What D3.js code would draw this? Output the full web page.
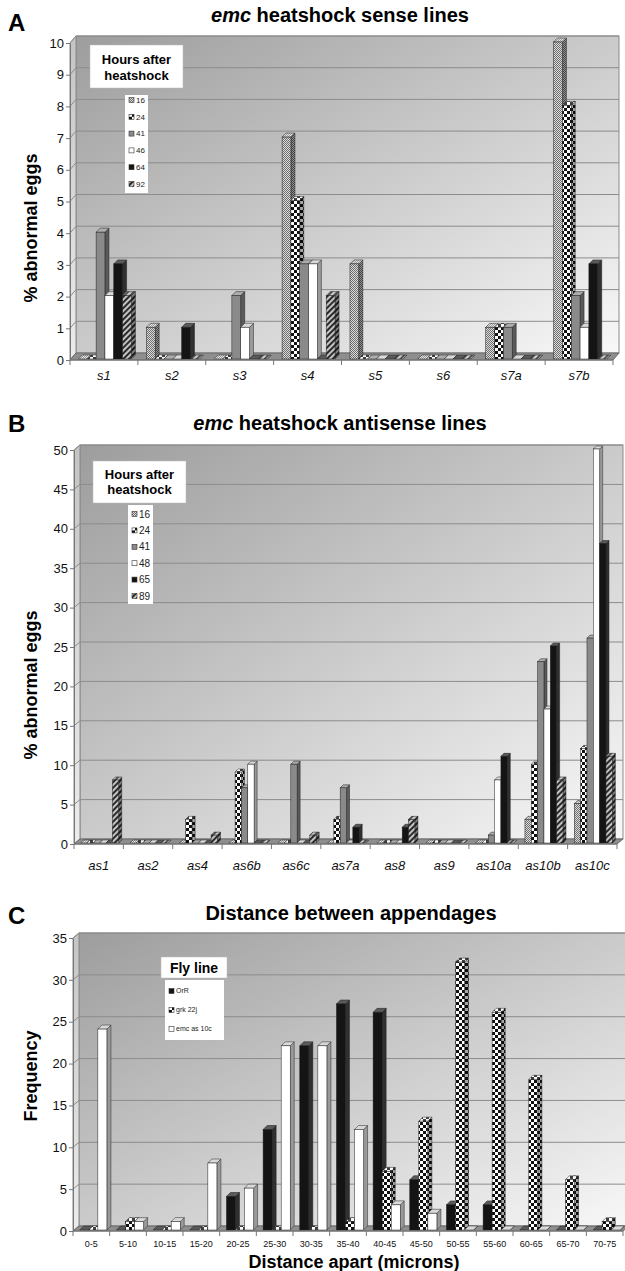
<!DOCTYPE html>
<html>
<head>
<meta charset="utf-8">
<script src="https://cdn.jsdelivr.net/npm/d3@7"></script>
<style>
  body { margin: 0; background: #fff; }
  svg text { font-family: "Liberation Sans", Arial, sans-serif; }
  .narrow { font-family: "Liberation Sans Narrow", "Liberation Sans", Arial, sans-serif; }
</style>
</head>
<body>
<script>
// panel A: sense lines
const senseLines = ['s1', 's2', 's3', 's4', 's5', 's6', 's7a', 's7b'];
const senseHours = ['16', '24', '41', '46', '64', '92'];
const senseValues = [
    [0, 0, 4, 2, 3, 2],
    [1, 0, 0, 0, 1, 0],
    [0, 0, 2, 1, 0, 0],
    [7, 5, 3, 3, 0, 2],
    [3, 0, 0, 0, 0, 0],
    [0, 0, 0, 0, 0, 0],
    [1, 1, 1, 0, 0, 0],
    [10, 8, 2, 1, 3, 0]
];
const senseTicks = [0, 1, 2, 3, 4, 5, 6, 7, 8, 9, 10];

// panel B: antisense lines
const antisenseLines = ['as1', 'as2', 'as4', 'as6b', 'as6c', 'as7a', 'as8', 'as9', 'as10a', 'as10b', 'as10c'];
const antisenseHours = ['16', '24', '41', '48', '65', '89'];
const antisenseValues = [
    [0, 0, 0, 0, 0, 8],
    [0, 0, 0, 0, 0, 0],
    [0, 3, 0, 0, 0, 1],
    [0, 9, 7, 10, 0, 0],
    [0, 0, 10, 0, 0, 1],
    [0, 3, 7, 0, 2, 0],
    [0, 0, 0, 0, 2, 3],
    [0, 0, 0, 0, 0, 0],
    [0, 0, 1, 8, 11, 0],
    [3, 10, 23, 17, 25, 8],
    [5, 12, 26, 50, 38, 11]
];
const antisenseTicks = [0, 5, 10, 15, 20, 25, 30, 35, 40, 45, 50];

// panel C: distance between appendages
const distanceBins = ['0-5', '5-10', '10-15', '15-20', '20-25', '25-30', '30-35', '35-40',
    '40-45', '45-50', '50-55', '55-60', '60-65', '65-70', '70-75'];
const flyLines = ['OrR', 'grk 22j', 'emc as 10c'];
const distanceValues = [
    [0, 0, 24],
    [0, 1, 1],
    [0, 0, 1],
    [0, 0, 8],
    [4, 0, 5],
    [12, 0, 22],
    [22, 0, 22],
    [27, 1, 12],
    [26, 7, 3],
    [6, 13, 2],
    [3, 32, 0],
    [3, 26, 0],
    [0, 18, 0],
    [0, 6, 0],
    [0, 1, 0]
];
const distanceTicks = [0, 5, 10, 15, 20, 25, 30, 35];

const svg = d3.select('body')
    .append('svg')
    .attr('width', 625)
    .attr('height', 1271);

svg.append('rect').attr('width', 625).attr('height', 1271).attr('fill', '#fff');

const defs = svg.append('defs');

// wall gradients
const wall = defs.append('linearGradient').attr('id', 'wall')
    .attr('x1', 0).attr('y1', 0).attr('x2', 1).attr('y2', 1);
wall.append('stop').attr('offset', 0).attr('stop-color', '#9d9d9d');
wall.append('stop').attr('offset', 1).attr('stop-color', '#f8f8f8');

const sideWall = defs.append('linearGradient').attr('id', 'sidewall')
    .attr('x1', 0).attr('y1', 0).attr('x2', 0).attr('y2', 1);
sideWall.append('stop').attr('offset', 0).attr('stop-color', '#c4c4c4');
sideWall.append('stop').attr('offset', 1).attr('stop-color', '#ececec');

// bar fill patterns
let p = defs.append('pattern').attr('id', 'dots')
    .attr('width', 2).attr('height', 2).attr('patternUnits', 'userSpaceOnUse');
p.append('rect').attr('width', 2).attr('height', 2).attr('fill', '#dcdcdc');
p.append('rect').attr('width', 1).attr('height', 1).attr('fill', '#6e6e6e');
p.append('rect').attr('x', 1).attr('y', 1).attr('width', 1).attr('height', 1).attr('fill', '#6e6e6e');

p = defs.append('pattern').attr('id', 'check')
    .attr('width', 6).attr('height', 6).attr('patternUnits', 'userSpaceOnUse');
p.append('rect').attr('width', 6).attr('height', 6).attr('fill', '#fff');
p.append('rect').attr('width', 3).attr('height', 3).attr('fill', '#111');
p.append('rect').attr('x', 3).attr('y', 3).attr('width', 3).attr('height', 3).attr('fill', '#111');

p = defs.append('pattern').attr('id', 'hatch')
    .attr('width', 4).attr('height', 4).attr('patternUnits', 'userSpaceOnUse')
    .attr('patternTransform', 'rotate(45)');
p.append('rect').attr('width', 4).attr('height', 4).attr('fill', '#c4c4c4');
p.append('rect').attr('width', 2).attr('height', 4).attr('fill', '#2a2a2a');

// fill + shading of top and side faces
const styles = {
    dots: {fill: 'url(#dots)', top: ['#fff', 0.3], side: ['#000', 0.35]},
    check: {fill: 'url(#check)', top: ['#fff', 0.2], side: ['#000', 0.35]},
    gray: {fill: '#8a8a8a', top: ['#fff', 0.3], side: ['#000', 0.35]},
    white: {fill: '#fff', top: ['#000', 0.15], side: ['#000', 0.4]},
    black: {fill: '#141414', top: ['#fff', 0.3], side: ['#fff', 0.12]},
    hatch: {fill: 'url(#hatch)', top: ['#fff', 0.2], side: ['#000', 0.35]}
};

function drawPanel(cfg) {
    const g = svg.append('g');
    const x = d3.scaleBand().domain(cfg.categories).range([cfg.left, cfg.right]);
    const y = d3.scaleLinear().domain([0, d3.max(cfg.ticks)]).range([cfg.bottom, cfg.top]);
    const bw = x.bandwidth();
    const xs = d3.scaleBand().domain(cfg.series).range([0, bw * (1 - cfg.gap)]);
    const dx = cfg.dx;
    const dy = cfg.dy;
    const y0 = y(0);
    const yTop = y(y.domain()[1]);

    // back wall
    g.append('rect')
        .attr('x', cfg.left + dx)
        .attr('y', yTop + dy)
        .attr('width', cfg.right - cfg.left)
        .attr('height', y0 - yTop)
        .attr('fill', 'url(#wall)')
        .attr('stroke', '#8a8a8a');

    // left wall
    g.append('path')
        .attr('d', `M${cfg.left},${yTop}L${cfg.left + dx},${yTop + dy}L${cfg.left + dx},${y0 + dy}L${cfg.left},${y0}Z`)
        .attr('fill', 'url(#sidewall)')
        .attr('stroke', '#8a8a8a');

    // gridlines
    g.selectAll('.grid')
        .data(cfg.ticks.filter(t => t > 0))
        .join('path')
        .attr('d', t => `M${cfg.left},${y(t)}L${cfg.left + dx},${y(t) + dy}L${cfg.right + dx},${y(t) + dy}`)
        .attr('fill', 'none')
        .attr('stroke', '#8c8c8c');

    // floor
    g.append('path')
        .attr('d', `M${cfg.left},${y0}L${cfg.left + dx},${y0 + dy}L${cfg.right + dx},${y0 + dy}L${cfg.right},${y0}Z`)
        .attr('fill', '#8e8e8e')
        .attr('stroke', '#6a6a6a');

    // bars
    const flat = [];
    cfg.categories.forEach((c, i) => {
        cfg.series.forEach((s, j) => flat.push({c, s, v: cfg.values[i][j], style: styles[cfg.patterns[j]]}));
    });
    const bd = cfg.barDepth;
    const bars = g.selectAll('.bar')
        .data(flat)
        .join('g')
        .attr('class', 'bar');
    bars.each(function (d) {
        const b = d3.select(this);
        const bx = x(d.c) + bw * cfg.gap / 2 + xs(d.s) + cfg.barShift;
        const w = xs.bandwidth();
        const base = y0 - cfg.barLift;
        const yv = y(d.v) - cfg.barLift;
        const top = `M${bx},${yv}L${bx + bd},${yv - bd}L${bx + w + bd},${yv - bd}L${bx + w},${yv}Z`;
        const side = `M${bx + w},${yv}L${bx + w + bd},${yv - bd}L${bx + w + bd},${base - bd}L${bx + w},${base}Z`;
        b.append('path').attr('d', side).attr('fill', d.style.fill);
        b.append('path').attr('d', side).attr('fill', d.style.side[0]).attr('fill-opacity', d.style.side[1])
            .attr('stroke', '#222').attr('stroke-width', 0.5);
        b.append('path').attr('d', top).attr('fill', d.style.fill);
        b.append('path').attr('d', top).attr('fill', d.style.top[0]).attr('fill-opacity', d.style.top[1])
            .attr('stroke', '#222').attr('stroke-width', 0.5);
        b.append('rect')
            .attr('x', bx).attr('y', yv)
            .attr('width', w).attr('height', base - yv)
            .attr('fill', d.style.fill)
            .attr('stroke', '#222').attr('stroke-width', 0.5);
    });

    // y axis
    const yAxis = d3.axisLeft(y).tickValues(cfg.ticks).tickSize(4).tickSizeOuter(0).tickPadding(2);
    const ya = g.append('g')
        .attr('transform', `translate(${cfg.left},0)`)
        .call(yAxis);
    ya.select('.domain').attr('stroke', '#777');
    ya.selectAll('line').attr('stroke', '#777');
    ya.selectAll('text')
        .attr('class', 'narrow')
        .attr('font-size', cfg.tickFont)
        .attr('fill', '#111');

    // category axis
    g.append('line')
        .attr('x1', cfg.left).attr('x2', cfg.right)
        .attr('y1', y0).attr('y2', y0)
        .attr('stroke', '#777');
    g.selectAll('.sep')
        .data(cfg.categories.map(c => x(c)).concat([cfg.right]))
        .join('line')
        .attr('x1', d => d).attr('x2', d => d)
        .attr('y1', y0).attr('y2', y0 + 5)
        .attr('stroke', '#777');
    g.selectAll('.cat')
        .data(cfg.categories)
        .join('text')
        .attr('class', 'narrow')
        .attr('x', c => x(c) + bw / 2)
        .attr('y', cfg.catY)
        .attr('text-anchor', 'middle')
        .attr('font-size', cfg.catFont)
        .attr('font-style', cfg.catItalic ? 'italic' : 'normal')
        .attr('fill', '#111')
        .text(c => c);

    // panel letter and title
    g.append('text')
        .attr('x', 8).attr('y', cfg.letterY)
        .attr('font-size', 24).attr('font-weight', 'bold')
        .text(cfg.letter);
    const t = g.append('text')
        .attr('x', cfg.titleX).attr('y', cfg.titleY)
        .attr('text-anchor', 'middle')
        .attr('font-size', 20).attr('font-weight', 'bold');
    if (cfg.titleItalic) {
        t.append('tspan').attr('font-style', 'italic').text(cfg.titleItalic);
    }
    t.append('tspan').text(cfg.title);

    // y axis title
    g.append('text')
        .attr('transform', `translate(${cfg.yTitleX},${cfg.yTitleY}) rotate(-90)`)
        .attr('text-anchor', 'middle')
        .attr('font-size', 18).attr('font-weight', 'bold')
        .text(cfg.yTitle);

    // legend
    const lg = cfg.legend;
    g.append('rect')
        .attr('x', lg.box[0]).attr('y', lg.box[1])
        .attr('width', lg.box[2]).attr('height', lg.box[3])
        .attr('fill', '#fff').attr('stroke', '#bbb').attr('stroke-width', 0.5);
    g.selectAll('.lgtitle')
        .data(lg.title)
        .join('text')
        .attr('x', lg.box[0] + lg.box[2] / 2)
        .attr('y', (d, i) => lg.titleY + i * lg.titleStep)
        .attr('text-anchor', 'middle')
        .attr('font-size', lg.titleFont).attr('font-weight', 'bold')
        .text(d => d);
    g.append('rect')
        .attr('x', lg.items[0]).attr('y', lg.items[1])
        .attr('width', lg.items[2]).attr('height', lg.items[3])
        .attr('fill', '#fff');
    const items = g.selectAll('.lgitem')
        .data(cfg.series)
        .join('g')
        .attr('transform', (d, i) => `translate(${lg.items[0] + 4},${lg.firstY + i * lg.step})`);
    items.append('rect')
        .attr('x', 0).attr('y', -lg.sw / 2)
        .attr('width', lg.sw).attr('height', lg.sw)
        .attr('fill', (d, i) => styles[cfg.patterns[i]].fill)
        .attr('stroke', '#333').attr('stroke-width', 0.6);
    items.append('text')
        .attr('class', 'narrow')
        .attr('x', lg.sw + 2).attr('y', 0)
        .attr('dy', '0.35em')
        .attr('font-size', lg.itemFont)
        .attr('fill', '#222')
        .text(d => d);
}

drawPanel({
    letter: 'A', letterY: 31,
    titleItalic: 'emc', title: ' heatshock sense lines', titleX: 340, titleY: 22,
    yTitle: '% abnormal eggs', yTitleX: 37, yTitleY: 228,
    categories: senseLines, series: senseHours, values: senseValues, ticks: senseTicks,
    patterns: ['dots', 'check', 'gray', 'white', 'black', 'hatch'],
    left: 70, right: 613, top: 43, bottom: 360, dx: 6, dy: -7,
    gap: 0.22, barDepth: 4, barShift: 1, barLift: 1,
    tickFont: 13, catFont: 13, catItalic: true, catY: 380,
    legend: {
        box: [90, 45, 93, 43], title: ['Hours after', 'heatshock'], titleY: 64, titleStep: 16, titleFont: 13,
        items: [125, 95, 23, 98], firstY: 100, step: 16.8, sw: 5, itemFont: 8
    }
});

drawPanel({
    letter: 'B', letterY: 432,
    titleItalic: 'emc', title: ' heatshock antisense lines', titleX: 340, titleY: 430,
    yTitle: '% abnormal eggs', yTitleX: 37, yTitleY: 685,
    categories: antisenseLines, series: antisenseHours, values: antisenseValues, ticks: antisenseTicks,
    patterns: ['dots', 'check', 'gray', 'white', 'black', 'hatch'],
    left: 74, right: 617, top: 450, bottom: 844, dx: 6, dy: -5,
    gap: 0.23, barDepth: 3, barShift: 1, barLift: 1,
    tickFont: 13, catFont: 13, catItalic: true, catY: 870,
    legend: {
        box: [93, 461, 93, 42], title: ['Hours after', 'heatshock'], titleY: 479, titleStep: 15, titleFont: 13,
        items: [128, 505, 25, 99], firstY: 514, step: 16.4, sw: 5, itemFont: 10
    }
});

drawPanel({
    letter: 'C', letterY: 924,
    titleItalic: '', title: 'Distance between appendages', titleX: 351, titleY: 920,
    yTitle: 'Frequency', yTitleX: 37, yTitleY: 1076,
    categories: distanceBins, series: flyLines, values: distanceValues, ticks: distanceTicks,
    patterns: ['black', 'check', 'white'],
    left: 73, right: 623, top: 938, bottom: 1231, dx: 6, dy: -5,
    gap: 0.26, barDepth: 4, barShift: 2, barLift: 1,
    tickFont: 13, catFont: 9, catItalic: false, catY: 1247,
    legend: {
        box: [161, 957, 66, 21], title: ['Fly line'], titleY: 973, titleStep: 0, titleFont: 14,
        items: [165, 980, 59, 60], firstY: 991, step: 19, sw: 5, itemFont: 7
    }
});

// x axis title of panel C
svg.append('text')
    .attr('x', 354).attr('y', 1268)
    .attr('text-anchor', 'middle')
    .attr('font-size', 18).attr('font-weight', 'bold')
    .text('Distance apart (microns)');
</script>
</body>
</html>
